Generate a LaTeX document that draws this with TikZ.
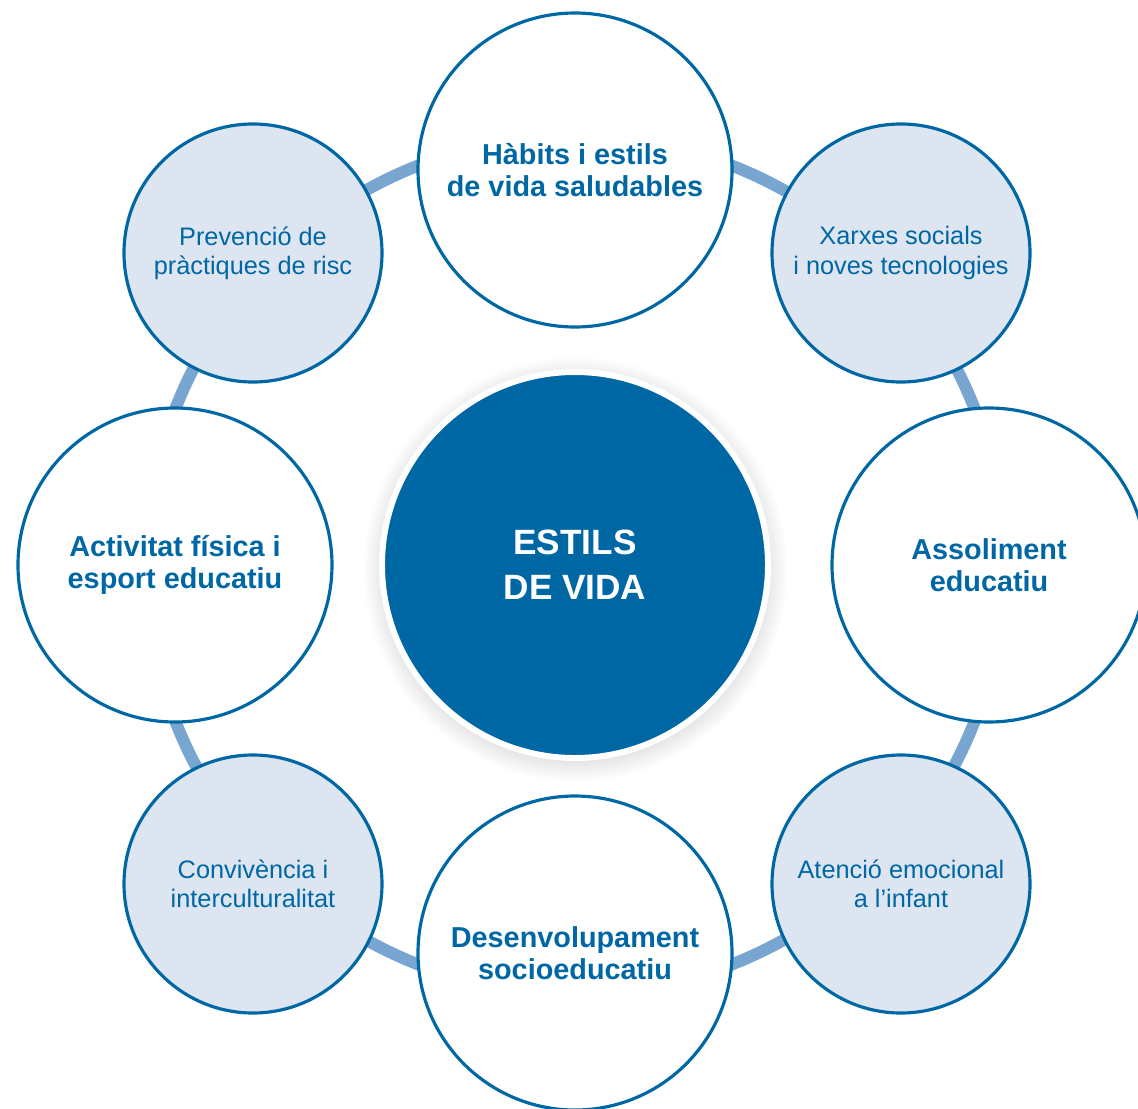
\documentclass[tikz,border=0pt]{standalone}
\usepackage{fontspec}
\setmainfont{Liberation Sans}
\usetikzlibrary{shadows}

\definecolor{estilsblue}{HTML}{0067A5}
\definecolor{ringblue}{HTML}{79A6D0}
\definecolor{softblue}{HTML}{DDE5F1}

\begin{document}
\begin{tikzpicture}[
    bigcirc/.style={circle, draw=estilsblue, line width=0.9pt, fill=white,
      minimum size=3.14cm, inner sep=0pt, align=center, text=estilsblue,
      font=\bfseries\fontsize{8.2}{9.1}\selectfont},
    smallcirc/.style={circle, draw=estilsblue, line width=0.9pt, fill=softblue,
      minimum size=2.58cm, inner sep=0pt, align=center, text=estilsblue,
      font=\fontsize{7.2}{8.3}\selectfont},
    hubcirc/.style={circle, draw=white, line width=1.7pt, fill=estilsblue,
      minimum size=3.86cm, inner sep=0pt, align=center, text=white,
      font=\bfseries\fontsize{10}{12.8}\selectfont,
      circular drop shadow={shadow xshift=0pt, shadow yshift=-1pt,
        shadow scale=1.1, opacity=0.3}},
    ringline/.style={ringblue, line width=0.12cm}]
  \useasboundingbox (-5.75,-5.43) rectangle (5.63,5.65);

  \coordinate (mid) at (0,0);

  % anell de fons
  \draw[ringline] (mid) circle[radius=4.29];

  % cercles grans
  \node[bigcirc] (habits)  at (0,3.95)  {Hàbits i estils\\de vida saludables};
  \node[bigcirc] (assol)   at (4.14,0)  {Assoliment\\educatiu};
  \node[bigcirc] (desenv)  at (0,-3.88) {Desenvolupament\\socioeducatiu};
  \node[bigcirc] (activ)   at (-4.0,0)  {Activitat física i\\esport educatiu};

  % cercles petits
  \node[smallcirc] (prevencio) at (-3.22,3.12)  {Prevenció de\\pràctiques de risc};
  \node[smallcirc] (xarxes)    at (3.26,3.12)   {Xarxes socials\\i noves tecnologies};
  \node[smallcirc] (atencio)   at (3.26,-3.19)  {Atenció emocional\\a l’infant};
  \node[smallcirc] (convivencia) at (-3.22,-3.19) {Convivència i\\interculturalitat};

  % centre
  \node[hubcirc] (estils) at (mid) {ESTILS\\DE VIDA};
\end{tikzpicture}
\end{document}
